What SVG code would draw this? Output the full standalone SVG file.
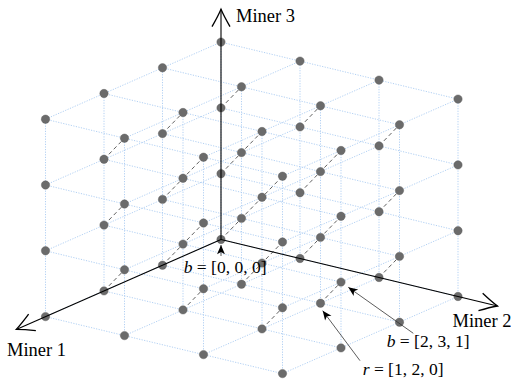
<svg xmlns="http://www.w3.org/2000/svg" xmlns:xlink="http://www.w3.org/1999/xlink" width="511" height="381" viewBox="0 0 511 381">
<style>
.grid{fill:none;stroke:#a9cbf2;stroke-width:0.9;stroke-dasharray:1.2 1.4}
.diag{fill:none;stroke:#3a3a3a;stroke-width:0.8;stroke-dasharray:4 3}
.axis{fill:none;stroke:#000;stroke-width:1.1}
.pt{fill:#6b6b6b;stroke:#5a5a5a;stroke-width:0.4}
.lbl{fill:none;stroke:#333;stroke-width:0.8}
text{font-family:'Liberation Serif','Times New Roman','DejaVu Serif',serif;font-size:18.5px;fill:#000}
.m{font-size:17.5px}
.it{font-style:italic}
</style>
<defs>
<marker id="open" markerUnits="userSpaceOnUse" markerWidth="24" markerHeight="24" viewBox="-16 -10 20 20" refX="0" refY="0" orient="auto" overflow="visible">
<path d="M-14.5,-7.5 Q-6,-2.6 0,0 Q-6,2.6 -14.5,7.5" fill="none" stroke="#000" stroke-width="1.1"/>
</marker>
<marker id="stealth" markerUnits="userSpaceOnUse" markerWidth="14" markerHeight="14" viewBox="-10 -5 12 10" refX="0" refY="0" orient="auto" overflow="visible">
<path d="M0,0 L-8,-3.4 L-6,0 L-8,3.4 Z" fill="#000"/>
</marker>
<g id="layer" class="grid">
<path d="M221 239.5L45.5 316.6M300 258.5L124.5 335.6M379 277.5L203.5 354.6M458 296.5L282.5 373.6"/>
<path d="M221 239.5L458 296.5M162.5 265.2L399.5 322.2M104 290.9L341 347.9M45.5 316.6L282.5 373.6"/>
</g>
</defs>
<g id="grid-lines">
<use xlink:href="#layer"/>
<use xlink:href="#layer" transform="translate(0,-65.8)"/>
<use xlink:href="#layer" transform="translate(0,-131.6)"/>
<use xlink:href="#layer" transform="translate(0,-197.4)"/>
<path class="grid" d="M221 239.5V42.1M300 258.5V61.1M379 277.5V80.1M458 296.5V99.1M162.5 265.2V67.8M241.5 284.2V86.8M320.5 303.2V105.8M399.5 322.2V124.8M104 290.9V93.5M183 309.9V112.5M262 328.9V131.5M341 347.9V150.5M45.5 316.6V119.2M124.5 335.6V138.2M203.5 354.6V157.2M282.5 373.6V176.2"/>
</g>
<g id="connectors">
<path class="diag" d="M221 239.5L282.5 176.2M221 173.7L262 131.5M300 258.5L341 216.3M162.5 265.2L203.5 223M300 192.7L341 150.5M162.5 199.4L203.5 157.2M241.5 284.2L282.5 242"/>
<path class="diag" d="M221 107.9L241.5 86.8M379 277.5L399.5 256.4M104 290.9L124.5 269.8M300 126.9L320.5 105.8M379 211.7L399.5 190.6M162.5 133.6L183 112.5M104 225.1L124.5 204M320.5 303.2L341 282.1M183 309.9L203.5 288.8M379 145.9L399.5 124.8M104 159.3L124.5 138.2M262 328.9L282.5 307.8"/>
</g>
<g id="points">
<g id="z0">
<circle class="pt" cx="221" cy="239.5" r="4.2"/><circle class="pt" cx="300" cy="258.5" r="4.2"/><circle class="pt" cx="379" cy="277.5" r="4.2"/><circle class="pt" cx="458" cy="296.5" r="4.2"/>
<circle class="pt" cx="162.5" cy="265.2" r="4.2"/><circle class="pt" cx="241.5" cy="284.2" r="4.2"/><circle class="pt" cx="320.5" cy="303.2" r="4.2"/><circle class="pt" cx="399.5" cy="322.2" r="4.2"/>
<circle class="pt" cx="104" cy="290.9" r="4.2"/><circle class="pt" cx="183" cy="309.9" r="4.2"/><circle class="pt" cx="262" cy="328.9" r="4.2"/><circle class="pt" cx="341" cy="347.9" r="4.2"/>
<circle class="pt" cx="45.5" cy="316.6" r="4.2"/><circle class="pt" cx="124.5" cy="335.6" r="4.2"/><circle class="pt" cx="203.5" cy="354.6" r="4.2"/><circle class="pt" cx="282.5" cy="373.6" r="4.2"/>
</g>
<g id="z1">
<circle class="pt" cx="221" cy="173.7" r="4.2"/><circle class="pt" cx="300" cy="192.7" r="4.2"/><circle class="pt" cx="379" cy="211.7" r="4.2"/><circle class="pt" cx="458" cy="230.7" r="4.2"/>
<circle class="pt" cx="162.5" cy="199.4" r="4.2"/><circle class="pt" cx="241.5" cy="218.4" r="4.2"/><circle class="pt" cx="320.5" cy="237.4" r="4.2"/><circle class="pt" cx="399.5" cy="256.4" r="4.2"/>
<circle class="pt" cx="104" cy="225.1" r="4.2"/><circle class="pt" cx="183" cy="244.1" r="4.2"/><circle class="pt" cx="262" cy="263.1" r="4.2"/><circle class="pt" cx="341" cy="282.1" r="4.2"/>
<circle class="pt" cx="45.5" cy="250.8" r="4.2"/><circle class="pt" cx="124.5" cy="269.8" r="4.2"/><circle class="pt" cx="203.5" cy="288.8" r="4.2"/><circle class="pt" cx="282.5" cy="307.8" r="4.2"/>
</g>
<g id="z2">
<circle class="pt" cx="221" cy="107.9" r="4.2"/><circle class="pt" cx="300" cy="126.9" r="4.2"/><circle class="pt" cx="379" cy="145.9" r="4.2"/><circle class="pt" cx="458" cy="164.9" r="4.2"/>
<circle class="pt" cx="162.5" cy="133.6" r="4.2"/><circle class="pt" cx="241.5" cy="152.6" r="4.2"/><circle class="pt" cx="320.5" cy="171.6" r="4.2"/><circle class="pt" cx="399.5" cy="190.6" r="4.2"/>
<circle class="pt" cx="104" cy="159.3" r="4.2"/><circle class="pt" cx="183" cy="178.3" r="4.2"/><circle class="pt" cx="262" cy="197.3" r="4.2"/><circle class="pt" cx="341" cy="216.3" r="4.2"/>
<circle class="pt" cx="45.5" cy="185" r="4.2"/><circle class="pt" cx="124.5" cy="204" r="4.2"/><circle class="pt" cx="203.5" cy="223" r="4.2"/><circle class="pt" cx="282.5" cy="242" r="4.2"/>
</g>
<g id="z3">
<circle class="pt" cx="221" cy="42.1" r="4.2"/><circle class="pt" cx="300" cy="61.1" r="4.2"/><circle class="pt" cx="379" cy="80.1" r="4.2"/><circle class="pt" cx="458" cy="99.1" r="4.2"/>
<circle class="pt" cx="162.5" cy="67.8" r="4.2"/><circle class="pt" cx="241.5" cy="86.8" r="4.2"/><circle class="pt" cx="320.5" cy="105.8" r="4.2"/><circle class="pt" cx="399.5" cy="124.8" r="4.2"/>
<circle class="pt" cx="104" cy="93.5" r="4.2"/><circle class="pt" cx="183" cy="112.5" r="4.2"/><circle class="pt" cx="262" cy="131.5" r="4.2"/><circle class="pt" cx="341" cy="150.5" r="4.2"/>
<circle class="pt" cx="45.5" cy="119.2" r="4.2"/><circle class="pt" cx="124.5" cy="138.2" r="4.2"/><circle class="pt" cx="203.5" cy="157.2" r="4.2"/><circle class="pt" cx="282.5" cy="176.2" r="4.2"/>
</g>
</g>
<g id="axes">
<path class="axis" d="M221 239.5L221 9.2" marker-end="url(#open)"/>
<path class="axis" d="M221 239.5L16.3 329.4" marker-end="url(#open)"/>
<path class="axis" d="M221 239.5L497.5 306" marker-end="url(#open)"/>
<text x="236" y="22" font-family="Liberation Serif, Times New Roman, serif">Miner 3</text>
<text x="7" y="356" font-family="Liberation Serif, Times New Roman, serif">Miner 1</text>
<text x="452.5" y="327" font-family="Liberation Serif, Times New Roman, serif">Miner 2</text>
</g>
<g id="label-origin">
<path class="lbl" d="M221 256L221 245" marker-end="url(#stealth)"/>
<text class="m" x="183.7" y="273.3" font-family="Liberation Serif, Times New Roman, serif"><tspan class="it">b</tspan> = [0, 0, 0]</text>
</g>
<g id="label-b">
<path class="lbl" d="M413.3 333.3L348.3 287.3" marker-end="url(#stealth)"/>
<text class="m" x="386.7" y="346.7" font-family="Liberation Serif, Times New Roman, serif"><tspan class="it">b</tspan> = [2, 3, 1]</text>
</g>
<g id="label-r">
<path class="lbl" d="M360 360.7L322.7 310.7" marker-end="url(#stealth)"/>
<text class="m" x="362.7" y="375" font-family="Liberation Serif, Times New Roman, serif"><tspan class="it">r</tspan> = [1, 2, 0]</text>
</g>
</svg>
